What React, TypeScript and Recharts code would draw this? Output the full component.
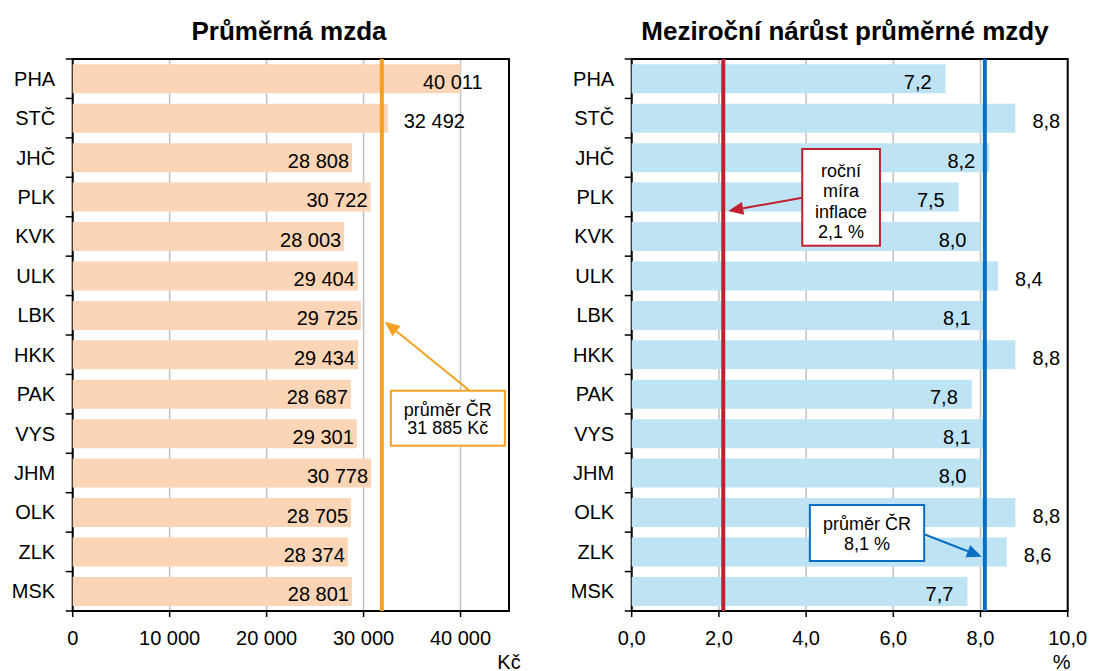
import React from 'react';
import {
  BarChart,
  Bar,
  XAxis,
  YAxis,
  CartesianGrid,
  ReferenceLine,
  ReferenceArea,
  LabelList,
} from 'recharts';

// ---------- data ----------
const regions = ['PHA', 'STČ', 'JHČ', 'PLK', 'KVK', 'ULK', 'LBK', 'HKK', 'PAK', 'VYS', 'JHM', 'OLK', 'ZLK', 'MSK'];
const averageWage = [40011, 32492, 28808, 30722, 28003, 29404, 29725, 29434, 28687, 29301, 30778, 28705, 28374, 28801];
const wageGrowth = [7.2, 8.8, 8.2, 7.5, 8.0, 8.4, 8.1, 8.8, 7.8, 8.1, 8.0, 8.8, 8.6, 7.7];
const wageTicks = [0, 10000, 20000, 30000, 40000];
const growthTicks = [0, 2, 4, 6, 8, 10];
const wageDomain = [0, 45000];
const growthDomain = [0, 10];
const wageAverageCR = 31885;
const growthAverageCR = 8.1;
const inflationRate = 2.1;

const titleWage = 'Průměrná mzda';
const titleGrowth = 'Meziroční nárůst průměrné mzdy';
const unitWage = 'Kč';
const unitGrowth = '%';

// ---------- style / layout ----------
const FONT = '"Liberation Sans", Arial, Helvetica, sans-serif';
const ORANGE = '#F6A021';
const RED = '#C0202F';
const BLUE = '#0A6FC2';
const PEACH = '#FBD5B5';
const LIGHTBLUE = '#BEE3F5';
const GRID = '#C0C0C0';
const CHART_H = 671;
const PLOT_TOP = 59;
const PLOT_BOTTOM = 611;

const wageOutside = new Set(['STČ']);
const wageShifted: Record<string, number> = { PHA: 22 };
const growthOutside = new Set(['STČ', 'ULK', 'HKK', 'OLK', 'ZLK']);

const wageData = regions.map((name, i) => ({ name, value: averageWage[i] }));
const growthData = regions.map((name, i) => ({ name, value: wageGrowth[i] }));

const fmtThousands = (v: number) => String(Math.round(v)).replace(/\B(?=(\d{3})+(?!\d))/g, ' ');
const fmtDecimal = (v: number) => v.toFixed(1).replace('.', ',');

const CatTick = (props: any) => {
  const { x, y, payload } = props;
  return (
    <text x={x - 17.5} y={y} dy="0.35em" textAnchor="end" fontSize={20} fontFamily={FONT} fill="#000">
      {payload.value}
    </text>
  );
};

// Frame: box around plot area plus small ticks at category boundaries
const FrameTicks = (props: any) => {
  const vb = props.viewBox || {};
  const n = regions.length;
  const band = vb.height / n;
  const lines = [];
  for (let k = 0; k <= n; k++) {
    const yy = vb.y + k * band;
    lines.push(<line key={k} x1={vb.x - 7} x2={vb.x} y1={yy} y2={yy} stroke="#000" strokeWidth={1.5} />);
  }
  return <g>{lines}</g>;
};

const catIndex = (props: any, arr: number[]) => {
  if (typeof props.index === 'number') return props.index;
  return arr.indexOf(props.value);
};

const WageLabel = (props: any) => {
  const { x, y, width, height, value } = props;
  const i = catIndex(props, averageWage);
  const cat = regions[i];
  const end = x + width;
  const cy = y + height / 2 + 3;
  let tx = end - 3;
  let anchor = 'end';
  if (wageOutside.has(cat)) {
    tx = end + 16;
    anchor = 'start';
  } else if (wageShifted[cat] !== undefined) {
    tx = end + wageShifted[cat];
  }
  return (
    <text x={tx} y={cy} dy="0.35em" textAnchor={anchor} fontSize={20} fontFamily={FONT} fill="#000">
      {fmtThousands(value)}
    </text>
  );
};

const GrowthLabel = (props: any) => {
  const { x, y, width, height, value } = props;
  const i = catIndex(props, wageGrowth);
  const cat = regions[i];
  const end = x + width;
  const cy = y + height / 2 + 3;
  const outside = growthOutside.has(cat);
  return (
    <text
      x={outside ? end + 17 : end - 14}
      y={cy}
      dy="0.35em"
      textAnchor={outside ? 'start' : 'end'}
      fontSize={20}
      fontFamily={FONT}
      fill="#000"
    >
      {fmtDecimal(value)}
    </text>
  );
};

const Arrow = ({ x1, y1, x2, y2, color }: any) => {
  const dx = x2 - x1;
  const dy = y2 - y1;
  const len = Math.sqrt(dx * dx + dy * dy);
  const ux = dx / len;
  const uy = dy / len;
  const L = 15;
  const W = 6.5;
  const bx = x2 - ux * L;
  const by = y2 - uy * L;
  const p1 = `${x2},${y2}`;
  const p2 = `${bx - uy * W},${by + ux * W}`;
  const p3 = `${bx + uy * W},${by - ux * W}`;
  return (
    <g>
      <line x1={x1} y1={y1} x2={bx} y2={by} stroke={color} strokeWidth={2} />
      <polygon points={`${p1} ${p2} ${p3}`} fill={color} />
    </g>
  );
};

const Callout = ({ lx, top, box, lines, color, arrow }: any) => {
  const [bx0, bx1, by0, by1] = box;
  const cx = lx + (bx0 + bx1) / 2;
  return (
    <g>
      <Arrow x1={lx + arrow[0]} y1={top + arrow[1]} x2={lx + arrow[2]} y2={top + arrow[3]} color={color} />
      <rect x={lx + bx0} y={top + by0} width={bx1 - bx0} height={by1 - by0} fill="#fff" stroke={color} strokeWidth={2} />
      {lines.map((t: any, k: number) => (
        <text key={k} x={cx} y={top + t[1]} textAnchor="middle" fontSize={18} fontFamily={FONT} fill="#000">
          {t[0]}
        </text>
      ))}
    </g>
  );
};

const WageCallout = (props: any) => {
  const vb = props.viewBox || {};
  return (
    <Callout
      lx={vb.x}
      top={vb.y}
      box={[9, 123, 331.7, 386.7]}
      color={ORANGE}
      arrow={[87, 331, 3, 262.7]}
      lines={[
        ['průměr ČR', 356.5],
        [`${fmtThousands(wageAverageCR)} Kč`, 374.5],
      ]}
    />
  );
};

const InflationCallout = (props: any) => {
  const vb = props.viewBox || {};
  return (
    <Callout
      lx={vb.x}
      top={vb.y}
      box={[79, 156.7, 90, 186.7]}
      color={RED}
      arrow={[79, 138.7, 5, 152]}
      lines={[
        ['roční', 117.5],
        ['míra', 138],
        ['inflace', 158.5],
        [`${fmtDecimal(inflationRate)} %`, 178.5],
      ]}
    />
  );
};

const GrowthCallout = (props: any) => {
  const vb = props.viewBox || {};
  return (
    <Callout
      lx={vb.x}
      top={vb.y}
      box={[-175, -60.7, 446, 502]}
      color={BLUE}
      arrow={[-60.7, 475.3, -3, 497.7]}
      lines={[
        ['průměr ČR', 471],
        [`${fmtDecimal(growthAverageCR)} %`, 490.5],
      ]}
    />
  );
};

const UnitLabel = (text: string, dx: number) => (props: any) => {
  const vb = props.viewBox || {};
  return (
    <text x={vb.x + vb.width + dx} y={vb.y + 57.5} textAnchor="middle" fontSize={20} fontFamily={FONT} fill="#000">
      {text}
    </text>
  );
};

const tickStyle = { fill: '#000', fontSize: 20, fontFamily: FONT };

const Panel = ({ data, domain, ticks, fmt, fill, yWidth, right, unit, unitDx, label, children }: any) => (
  <BarChart
    width={yWidth + 436 + right}
    height={CHART_H}
    data={data}
    layout="vertical"
    margin={{ top: PLOT_TOP, right, bottom: 0, left: 0 }}
    barCategoryGap="13.5%"
  >
    <CartesianGrid horizontal={false} stroke={GRID} strokeWidth={1.5} />
    <XAxis
      type="number"
      domain={domain}
      ticks={ticks}
      interval={0}
      tickFormatter={fmt}
      height={CHART_H - PLOT_BOTTOM}
      tickSize={6}
      tickMargin={14}
      axisLine={false}
      tickLine={{ stroke: '#000', strokeWidth: 1.5 }}
      tick={tickStyle}
      label={UnitLabel(unit, unitDx)}
    />
    <YAxis
      type="category"
      dataKey="name"
      width={yWidth}
      interval={0}
      tickSize={0}
      tickMargin={0}
      tickLine={false}
      axisLine={false}
      tick={<CatTick />}
    />
    <Bar dataKey="value" fill={fill} isAnimationActive={false}>
      <LabelList dataKey="value" content={label} />
    </Bar>
    {children}
    <ReferenceArea
      x1={domain[0]}
      x2={domain[1]}
      fill="none"
      fillOpacity={0}
      stroke="#000"
      strokeWidth={2}
      label={<FrameTicks />}
    />
  </BarChart>
);

export default function App() {
  return (
    <div style={{ position: 'absolute', left: 0, top: 0, width: 1093, height: 671, background: '#fff', overflow: 'hidden' }}>
      <div style={{ position: 'absolute', left: 0, top: 0 }}>
        <BarChart
          width={546}
          height={CHART_H}
          data={wageData}
          layout="vertical"
          margin={{ top: PLOT_TOP, right: 37, bottom: 0, left: 0 }}
          barCategoryGap="13.5%"
        >
          <CartesianGrid horizontal={false} stroke={GRID} strokeWidth={1.5} />
          <XAxis
            type="number"
            domain={wageDomain}
            ticks={wageTicks}
            interval={0}
            tickFormatter={fmtThousands}
            height={CHART_H - PLOT_BOTTOM}
            tickSize={6}
            tickMargin={14}
            axisLine={false}
            tickLine={{ stroke: '#000', strokeWidth: 1.5 }}
            tick={tickStyle}
            label={UnitLabel(unitWage, 0)}
          />
          <YAxis
            type="category"
            dataKey="name"
            width={72.7}
            interval={0}
            tickSize={0}
            tickMargin={0}
            tickLine={false}
            axisLine={false}
            tick={<CatTick />}
          />
          <Bar dataKey="value" fill={PEACH} isAnimationActive={false}>
            <LabelList dataKey="value" content={<WageLabel />} />
          </Bar>
          <ReferenceLine x={wageAverageCR} stroke={ORANGE} strokeWidth={4} label={<WageCallout />} />
          <ReferenceArea
            x1={wageDomain[0]}
            x2={wageDomain[1]}
            fill="none"
            fillOpacity={0}
            stroke="#000"
            strokeWidth={2}
            label={<FrameTicks />}
          />
        </BarChart>
      </div>
      <div style={{ position: 'absolute', left: 546, top: 0 }}>
        <BarChart
          width={547}
          height={CHART_H}
          data={growthData}
          layout="vertical"
          margin={{ top: PLOT_TOP, right: 25.3, bottom: 0, left: 0 }}
          barCategoryGap="13.5%"
        >
          <CartesianGrid horizontal={false} stroke={GRID} strokeWidth={1.5} />
          <XAxis
            type="number"
            domain={growthDomain}
            ticks={growthTicks}
            interval={0}
            tickFormatter={fmtDecimal}
            height={CHART_H - PLOT_BOTTOM}
            tickSize={6}
            tickMargin={14}
            axisLine={false}
            tickLine={{ stroke: '#000', strokeWidth: 1.5 }}
            tick={tickStyle}
            label={UnitLabel(unitGrowth, -6)}
          />
          <YAxis
            type="category"
            dataKey="name"
            width={85.7}
            interval={0}
            tickSize={0}
            tickMargin={0}
            tickLine={false}
            axisLine={false}
            tick={<CatTick />}
          />
          <Bar dataKey="value" fill={LIGHTBLUE} isAnimationActive={false}>
            <LabelList dataKey="value" content={<GrowthLabel />} />
          </Bar>
          <ReferenceLine x={inflationRate} stroke={RED} strokeWidth={4} label={<InflationCallout />} />
          <ReferenceLine x={growthAverageCR} stroke={BLUE} strokeWidth={4} label={<GrowthCallout />} />
          <ReferenceArea
            x1={growthDomain[0]}
            x2={growthDomain[1]}
            fill="none"
            fillOpacity={0}
            stroke="#000"
            strokeWidth={2}
            label={<FrameTicks />}
          />
        </BarChart>
      </div>
      <svg width={1093} height={60} style={{ position: 'absolute', left: 0, top: 0, pointerEvents: 'none' }}>
        <text x={289} y={39.5} textAnchor="middle" fontSize={26} fontWeight="bold" fontFamily={FONT} fill="#000">
          {titleWage}
        </text>
        <text x={845} y={39.5} textAnchor="middle" fontSize={26} fontWeight="bold" fontFamily={FONT} fill="#000">
          {titleGrowth}
        </text>
      </svg>
    </div>
  );
}
